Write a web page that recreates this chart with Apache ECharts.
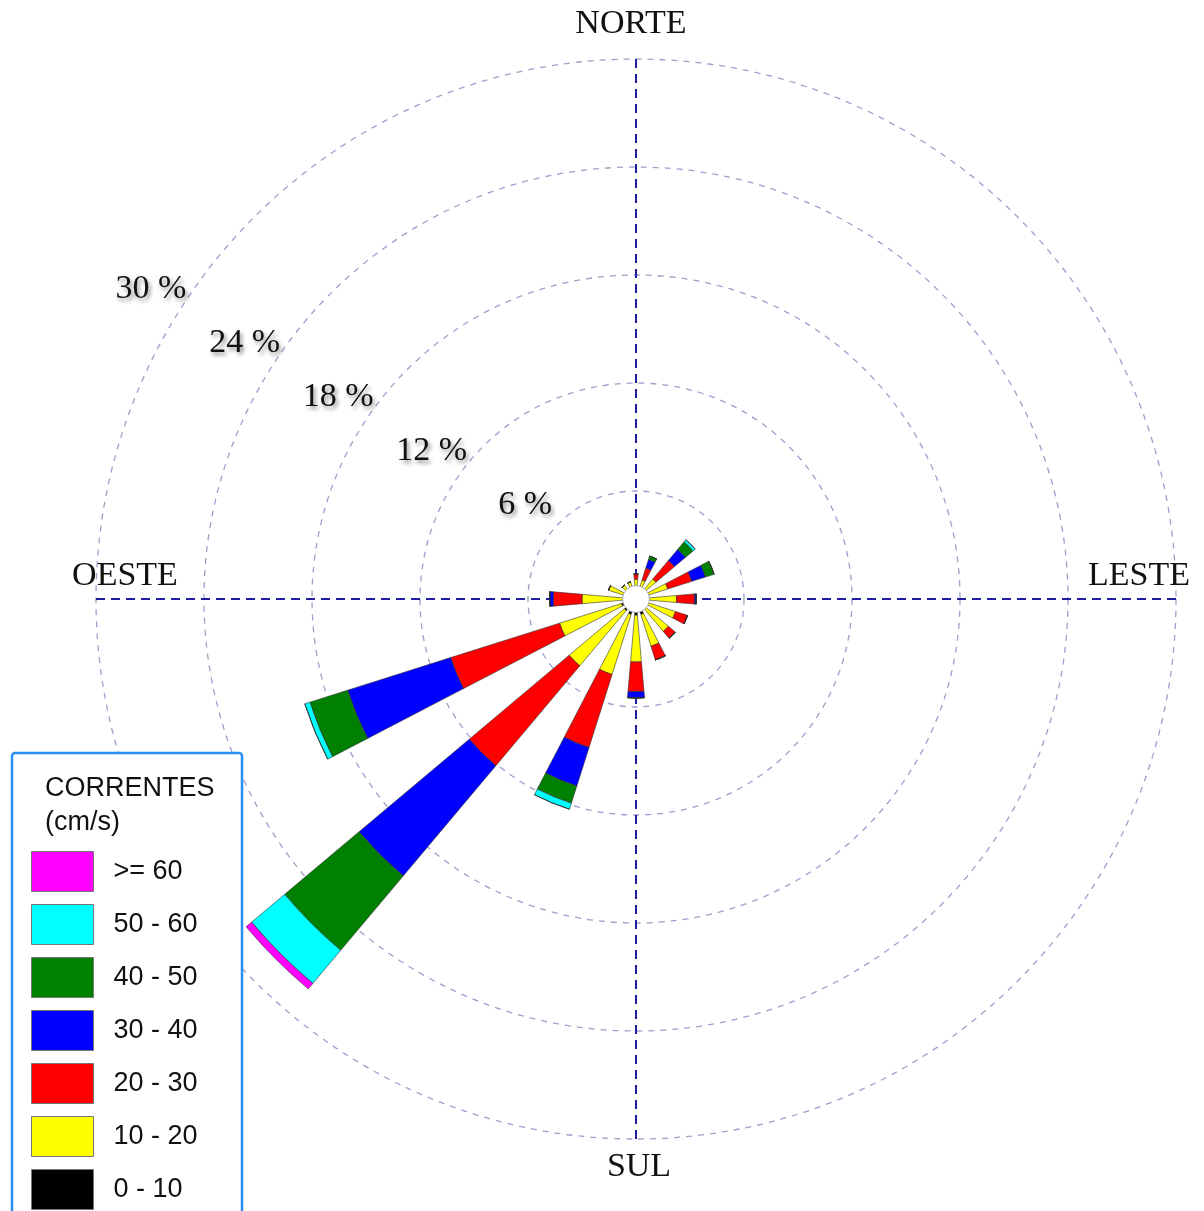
<!DOCTYPE html>
<html>
<head>
<meta charset="utf-8">
<script src="https://cdn.jsdelivr.net/npm/echarts/dist/echarts.min.js"></script>
<style>
  html, body { margin: 0; padding: 0; background: #fff; }
  #rosa { width: 1204px; height: 1211px; }
</style>
</head>
<body>
<div id="rosa"></div>
<script>
// direcoes (16 setores, a partir do norte, sentido horario)
var direcoes = ['N', 'NNE', 'NE', 'ENE', 'E', 'ESE', 'SE', 'SSE', 'S', 'SSW', 'SW', 'WSW', 'W', 'WNW', 'NW', 'NNW'];
var classes = ['0 - 10', '10 - 20', '20 - 30', '30 - 40', '40 - 50', '50 - 60', '>= 60'];
var cores = ['#000000', '#ffff00', '#ff0000', '#0000ff', '#008000', '#00ffff', '#ff00ff'];
var aneis = [6, 12, 18, 24, 30];
var pontosCardeais = ['NORTE', 'LESTE', 'SUL', 'OESTE'];

// frequencia (%) de cada classe de velocidade por direcao
var v0_10  = [0.5, 0.5, 0.6, 0.6, 0.7, 0.7, 0.7, 0.9, 0.9, 0.9, 0.85, 0.85, 0.7, 0.6, 0.5, 0.5];
var v10_20 = [0.6, 0.6, 0.85, 1.25, 1.55, 1.6, 1.65, 1.85, 2.6, 3.5, 4.0, 3.6, 2.3, 1.0, 0.5, 0.5];
var v20_30 = [0.3, 0.7, 1.35, 1.4, 1.0, 0.7, 0.5, 0.8, 1.65, 4.25, 7.25, 6.35, 1.6, 0, 0, 0];
var v30_40 = [0, 0.5, 0.8, 0.8, 0.1, 0, 0, 0, 0.35, 2.25, 8.0, 6.0, 0.2, 0, 0, 0];
var v40_50 = [0, 0.2, 0.55, 0.5, 0, 0, 0, 0, 0, 1.0, 5.4, 2.2, 0, 0, 0, 0];
var v50_60 = [0, 0, 0.15, 0, 0, 0, 0, 0, 0, 0.35, 2.4, 0.3, 0, 0, 0, 0];
var v60    = [0, 0, 0, 0, 0, 0, 0, 0, 0, 0, 0.4, 0, 0, 0, 0, 0];
var valores = [v0_10, v10_20, v20_30, v30_40, v40_50, v50_60, v60];

var centro = [636, 599];
var sombra = { textShadowColor: 'rgba(0,0,0,0.45)', textShadowBlur: 4, textShadowOffsetX: 2, textShadowOffsetY: 3 };

var chartDom = document.getElementById('rosa');
var myChart = echarts.init(chartDom);

var series = [];
for (var i = 0; i < classes.length; i++) {
  series.push({
    name: classes[i],
    type: 'bar',
    coordinateSystem: 'polar',
    polarIndex: 0,
    stack: 'total',
    barWidth: '44%',
    itemStyle: { color: cores[i], borderColor: '#333', borderWidth: 0.6 },
    emphasis: { disabled: true },
    data: valores[i]
  });
}

function textoCardeal(nome, x, y) {
  return {
    type: 'text', z: 40,
    style: {
      text: nome, x: x, y: y, align: 'center', verticalAlign: 'middle',
      font: '34px "Liberation Serif"', fill: '#111',
      shadowColor: 'rgba(0,0,0,0.45)', shadowBlur: 4, shadowOffsetX: 2, shadowOffsetY: 3
    }
  };
}

var option = {
  animation: false,
  backgroundColor: '#fff',
  polar: [
    { center: centro, radius: [0, 540] },
    { center: centro, radius: [0, 540] },
    { center: centro, radius: [35, 575] }
  ],
  angleAxis: [
    {
      polarIndex: 0, type: 'category', data: direcoes, startAngle: 101.25, boundaryGap: true,
      axisLine: { show: false }, axisTick: { show: false }, axisLabel: { show: false }, splitLine: { show: false }
    },
    {
      polarIndex: 1, type: 'value', min: 0, max: 360, interval: 90, startAngle: 90,
      axisLine: { show: false }, axisTick: { show: false }, axisLabel: { show: false },
      splitLine: { show: true, lineStyle: { color: '#1f1f9e', width: 2, type: [9, 6] } }
    },
    { polarIndex: 2, type: 'value', min: 0, max: 360, startAngle: 150, show: false }
  ],
  radiusAxis: [
    {
      polarIndex: 0, type: 'value', min: 0, max: aneis[aneis.length - 1], interval: 6,
      axisLine: { show: false }, axisTick: { show: false }, axisLabel: { show: false },
      splitLine: { show: true, lineStyle: { color: '#9f9fcb', width: 1.3, type: [6, 6] } }
    },
    { polarIndex: 1, type: 'value', min: 0, max: 30, show: false },
    {
      polarIndex: 2, type: 'value', min: 0, max: 30, interval: 6,
      axisLine: { show: false }, axisTick: { show: false }, splitLine: { show: false },
      axisLabel: Object.assign({
        show: true, margin: -26, align: 'center', verticalAlign: 'middle',
        fontFamily: 'Liberation Serif', fontSize: 34, color: '#111',
        formatter: function (v) { return aneis.indexOf(v) >= 0 ? v + ' %' : ''; }
      }, sombra)
    }
  ],
  legend: {
    data: classes.slice().reverse(),
    orient: 'vertical', left: 26, top: 846, height: 420,
    itemWidth: 62, itemHeight: 40, itemGap: 12,
    icon: 'rect', selectedMode: false, z: 60,
    itemStyle: { borderColor: '#777', borderWidth: 1 },
    textStyle: { fontFamily: 'Liberation Sans', fontSize: 27, color: '#111', padding: [0, 0, 0, 15] }
  },
  graphic: [
    { type: 'circle', z: 30, shape: { cx: centro[0], cy: centro[1], r: 13.5 }, style: { fill: '#fff', stroke: '#999', lineWidth: 0.8 } },
    { type: 'rect', z: 50, shape: { x: 12, y: 753, width: 230, height: 480, r: 3 }, style: { fill: '#fff', stroke: '#2b8ef2', lineWidth: 2.5 } },
    { type: 'text', z: 55, style: { text: 'CORRENTES\n(cm/s)', x: 45, y: 772, font: '27px "Liberation Sans"', fill: '#111', lineHeight: 34 } },
    textoCardeal(pontosCardeais[0], 631, 24),
    textoCardeal(pontosCardeais[1], 1139, 576),
    textoCardeal(pontosCardeais[2], 639, 1167),
    textoCardeal(pontosCardeais[3], 125, 576)
  ],
  series: series
};

option && myChart.setOption(option);
</script>
</body>
</html>
